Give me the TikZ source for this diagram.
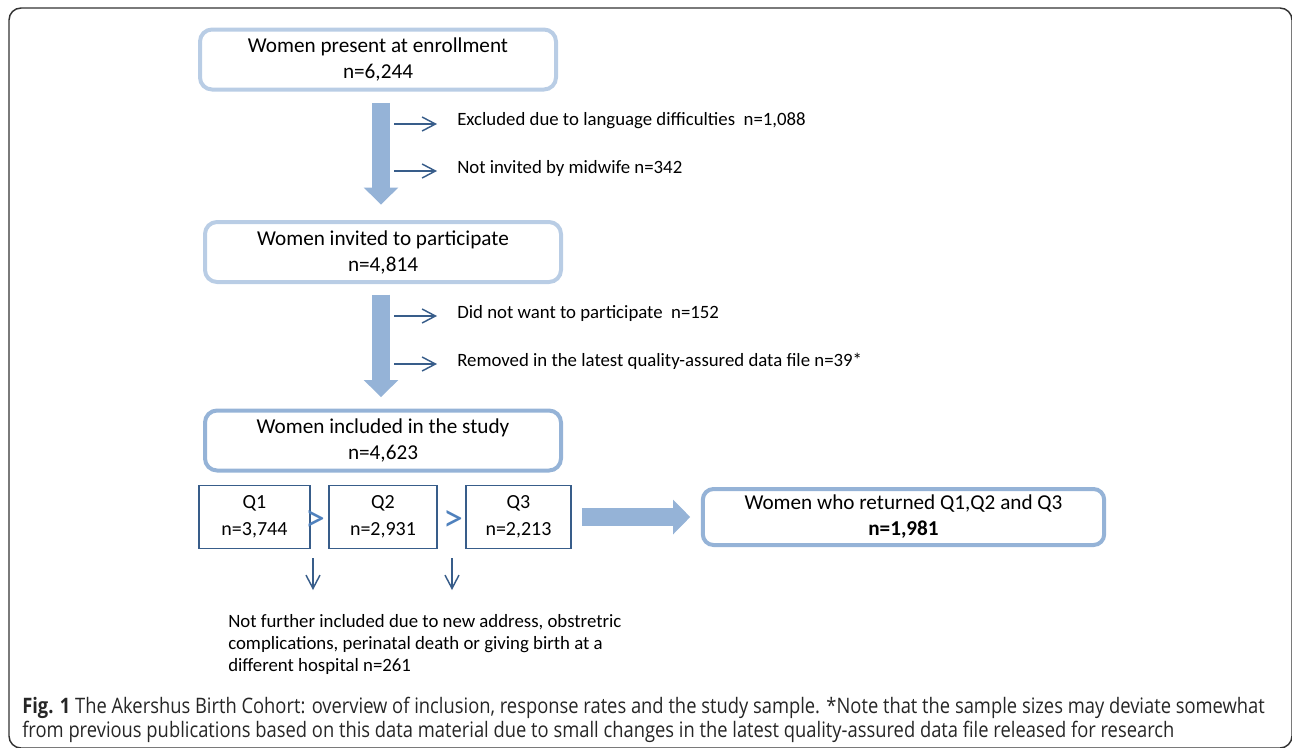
\documentclass[tikz,border=0pt]{standalone}
\usepackage{fontspec}
\setmainfont{Carlito}
\newfontfamily\capfont[FakeStretch=0.86]{Open Sans}
\usetikzlibrary{arrows.meta}
\definecolor{lightframe}{HTML}{B9CDE5}
\definecolor{midframe}{HTML}{95B3D7}
\definecolor{navy}{HTML}{385D8A}
\definecolor{stepblue}{HTML}{4F81BD}
\tikzset{
  stagebox/.style={draw=lightframe, line width=3pt, rounded corners=9pt,
    minimum width=267pt, minimum height=45pt, align=center,
    font=\fontsize{15.9}{19.5}\selectfont},
  qbox/.style={draw=navy, line width=1.1pt, minimum height=47.5pt,
    align=center, font=\fontsize{15}{20}\selectfont},
  note/.style={anchor=west, inner sep=0pt, font=\fontsize{14.1}{16.5}\selectfont},
  stepsign/.style={text=stepblue, inner sep=0pt, font=\fontsize{30}{30}\selectfont},
  bigarrow/.style={draw=midframe, line width=13.5pt,
    -{Triangle[length=12.75pt,width=26pt,line width=0pt]}},
  thinarrow/.style={draw=navy, line width=1.1pt,
    -{Straight Barb[length=10pt,width=10.5pt]}},
}
\begin{document}
\begin{tikzpicture}[x=0.75pt,y=-0.75pt]
\useasboundingbox (0,0) rectangle (1292,747);
% Outer frame
\draw[black!80, line width=1.1pt, rounded corners=9pt] (9,8) rectangle (1292,748);
% Stage boxes
\node[stagebox] (enroll) at (378,59.5) {Women present at enrollment\\n=6,244};
\node[stagebox] (invited) at (383,252) {Women invited to participate\\n=4,814};
\node[stagebox, draw=midframe] (included) at (383,440.5) {Women included in the study\\n=4,623};
% Questionnaires
\node[qbox, minimum width=83pt] (qone) at (254.5,517) {Q1\\n=3,744};
\node[qbox, minimum width=81pt] (qtwo) at (383,517) {Q2\\n=2,931};
\node[qbox, minimum width=79pt] (qthree) at (518.5,517) {Q3\\n=2,213};
\node[stepsign] (gtone) at (315,521) {>};
\node[stepsign] (gttwo) at (453,521) {>};
\node[stagebox, draw=midframe, minimum width=301pt, minimum height=42pt,
  rounded corners=8pt] (returned) at (903.5,517) {Women who returned Q1,Q2 and Q3\\\textbf{n=1,981}};
% Exclusions
\node[note] (exlang) at (457,121) {Excluded due to language difficulties\ \ n=1,088};
\node[note] (exmid) at (457,168) {Not invited by midwife n=342};
\node[note] (exwant) at (457,313) {Did not want to participate\ \ n=152};
\node[note] (exremoved) at (457,361) {Removed in the latest quality-assured data file n=39*};
\node[note, anchor=north west, align=left] (lost) at (228,614)
  {Not further included due to new address, obstretric\\complications, perinatal death or giving birth at a\\different hospital n=261};
% Big arrows
\draw[bigarrow, shorten <=8.6pt, shorten >=11.6pt] ([xshift=2.25pt]enroll.south) -- ([xshift=-1.5pt]invited.north);
\draw[bigarrow, shorten <=7.9pt, shorten >=8.6pt] ([xshift=-1.5pt]invited.south) -- ([xshift=-1.5pt]included.north);
\draw[bigarrow, shorten <=7.5pt, shorten >=8pt] (qthree.east) -- (returned.west);
% Thin arrows
\draw[thinarrow] ([shift={(-63,3)}]exlang.west) -- ([shift={(-20,3)}]exlang.west);
\draw[thinarrow] ([shift={(-63,3)}]exmid.west) -- ([shift={(-20,3)}]exmid.west);
\draw[thinarrow] ([shift={(-63,3)}]exwant.west) -- ([shift={(-20,3)}]exwant.west);
\draw[thinarrow] ([shift={(-63,3)}]exremoved.west) -- ([shift={(-20,3)}]exremoved.west);
\draw[thinarrow] ([shift={(-2,37)}]gtone.center) -- ([shift={(-2,69)}]gtone.center);
\draw[thinarrow] ([shift={(-1,37)}]gttwo.center) -- ([shift={(-1,69)}]gttwo.center);
% Caption
\node[anchor=north west, inner sep=0pt, align=left, text=black!85,
  font=\capfont\fontsize{16}{18}\selectfont] (caption) at (22,697)
  {\textbf{Fig. 1} The Akershus Birth Cohort: overview of inclusion, response rates and the study sample. *Note that the sample sizes may deviate somewhat\\from previous publications based on this data material due to small changes in the latest quality-assured data file released for research};
\end{tikzpicture}
\end{document}
